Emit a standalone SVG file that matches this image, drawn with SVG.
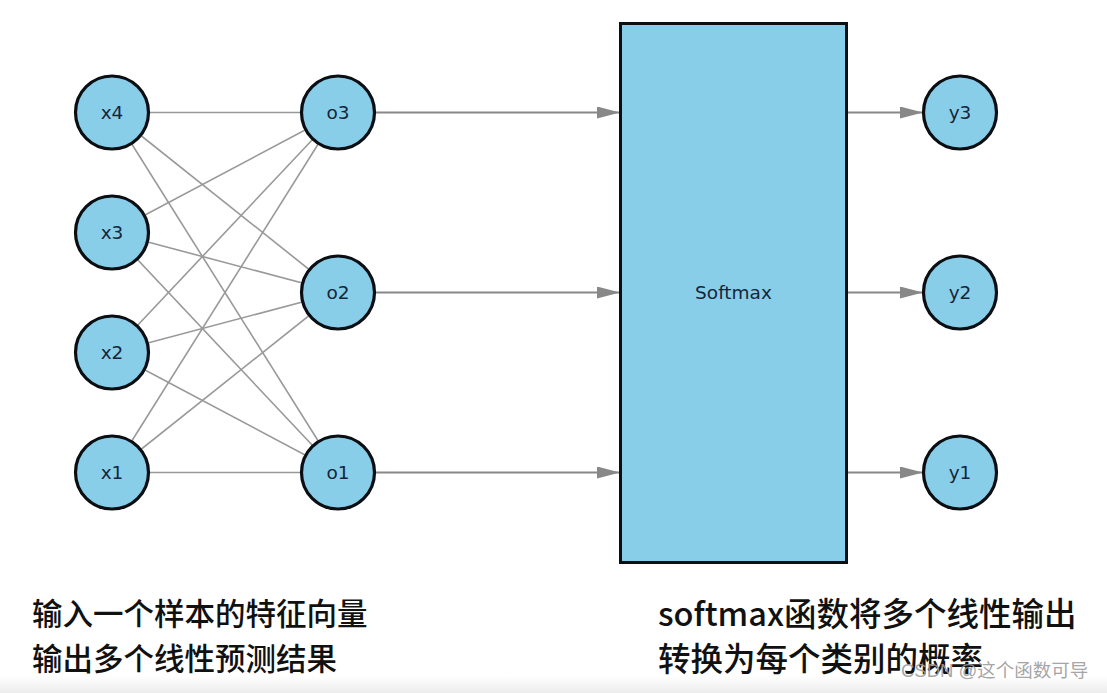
<svg xmlns="http://www.w3.org/2000/svg" width="1107" height="693" viewBox="0 0 1107 693">
<style>
.edge{stroke:#999;stroke-width:1.6;fill:none}
.arrow{stroke:#888;stroke-width:2;fill:none}
.node circle{fill:#89CEE9;stroke:#0b0f14;stroke-width:3.2}
.node text{font-family:"DejaVu Sans",sans-serif;font-size:18.5px;fill:#16263a;text-anchor:middle}
.cap{font-family:"Noto Sans CJK SC",sans-serif;font-weight:500;fill:#111}
</style>
<defs>
<marker id="ah" markerUnits="userSpaceOnUse" markerWidth="24" markerHeight="14" refX="23" refY="6" orient="auto">
<path d="M0,0 L23,6 L0,12 Z" fill="#888"/>
</marker>
<linearGradient id="bot" x1="0" y1="0" x2="0" y2="1">
<stop offset="0" stop-color="#ffffff"/>
<stop offset="1" stop-color="#ececec"/>
</linearGradient>
</defs>
<rect x="0" y="0" width="1107" height="693" fill="#fff"/>
<rect x="0" y="676" width="1107" height="17" fill="url(#bot)"/>
<g id="connectors">
<line class="edge" x1="112" y1="112.5" x2="338" y2="112.5"/>
<line class="edge" x1="112" y1="112.5" x2="338" y2="292.5"/>
<line class="edge" x1="112" y1="112.5" x2="338" y2="472.5"/>
<line class="edge" x1="112" y1="232.5" x2="338" y2="112.5"/>
<line class="edge" x1="112" y1="232.5" x2="338" y2="292.5"/>
<line class="edge" x1="112" y1="232.5" x2="338" y2="472.5"/>
<line class="edge" x1="112" y1="352.5" x2="338" y2="112.5"/>
<line class="edge" x1="112" y1="352.5" x2="338" y2="292.5"/>
<line class="edge" x1="112" y1="352.5" x2="338" y2="472.5"/>
<line class="edge" x1="112" y1="472.5" x2="338" y2="112.5"/>
<line class="edge" x1="112" y1="472.5" x2="338" y2="292.5"/>
<line class="edge" x1="112" y1="472.5" x2="338" y2="472.5"/>
<line class="arrow" x1="375" y1="112.5" x2="620" y2="112.5" marker-end="url(#ah)"/>
<line class="arrow" x1="375" y1="292.5" x2="620" y2="292.5" marker-end="url(#ah)"/>
<line class="arrow" x1="375" y1="472.5" x2="620" y2="472.5" marker-end="url(#ah)"/>
<line class="arrow" x1="847" y1="112.5" x2="923" y2="112.5" marker-end="url(#ah)"/>
<line class="arrow" x1="847" y1="292.5" x2="923" y2="292.5" marker-end="url(#ah)"/>
<line class="arrow" x1="847" y1="472.5" x2="923" y2="472.5" marker-end="url(#ah)"/>
</g>
<g id="x4" class="node"><circle cx="112" cy="112.5" r="36.5"/><text x="112" y="119">x4</text></g>
<g id="x3" class="node"><circle cx="112" cy="232.5" r="36.5"/><text x="112" y="239">x3</text></g>
<g id="x2" class="node"><circle cx="112" cy="352.5" r="36.5"/><text x="112" y="359">x2</text></g>
<g id="x1" class="node"><circle cx="112" cy="472.5" r="36.5"/><text x="112" y="479">x1</text></g>
<g id="o3" class="node"><circle cx="338" cy="112.5" r="36.5"/><text x="338" y="119">o3</text></g>
<g id="o2" class="node"><circle cx="338" cy="292.5" r="36.5"/><text x="338" y="299">o2</text></g>
<g id="o1" class="node"><circle cx="338" cy="472.5" r="36.5"/><text x="338" y="479">o1</text></g>
<g id="softmax" class="node"><rect x="620.5" y="23.5" width="226" height="539" fill="#89CEE9" stroke="#0b0f14" stroke-width="3"/><text x="733.5" y="298.5">Softmax</text></g>
<g id="y3" class="node"><circle cx="960" cy="112.5" r="36.5"/><text x="960" y="119">y3</text></g>
<g id="y2" class="node"><circle cx="960" cy="292.5" r="36.5"/><text x="960" y="299">y2</text></g>
<g id="y1" class="node"><circle cx="960" cy="472.5" r="36.5"/><text x="960" y="479">y1</text></g>
<text class="cap" x="32" y="625" font-size="30.5">输入一个样本的特征向量</text>
<text class="cap" x="32" y="670" font-size="30.5">输出多个线性预测结果</text>
<text class="cap" x="658" y="626" font-size="32.5">softmax函数将多个线性输出</text>
<text class="cap" x="658" y="671" font-size="32.5">转换为每个类别的概率</text>
<text x="901" y="677" font-family="'Liberation Sans','Noto Sans CJK SC',sans-serif" font-size="18.5" fill="#9a9a9a" fill-opacity="0.9">CSDN @这个函数可导</text>
</svg>
